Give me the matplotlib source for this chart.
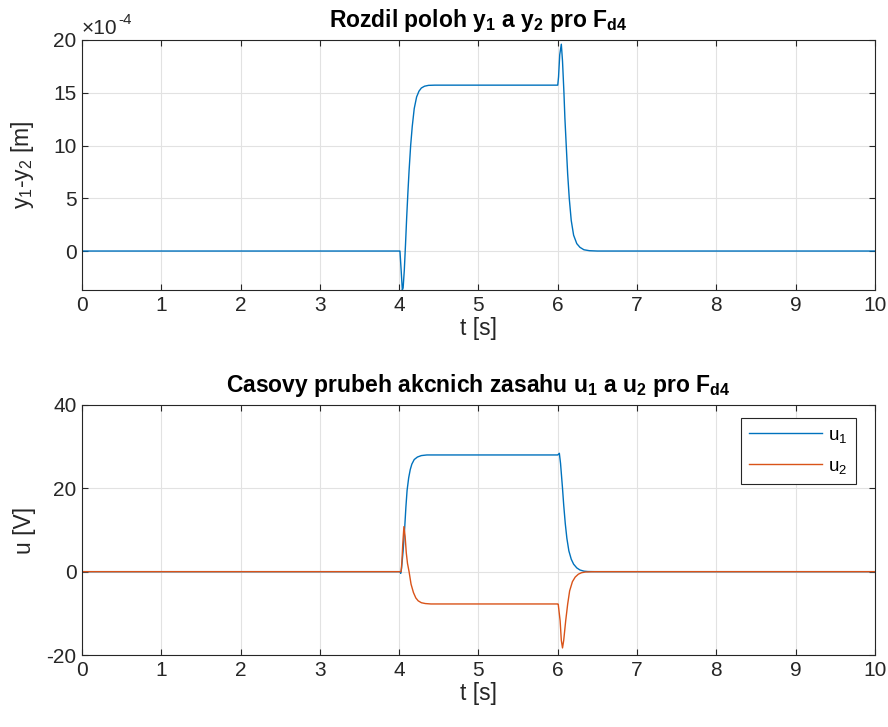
import matplotlib
matplotlib.use('Agg')
import numpy as np
from matplotlib import pyplot as plt

# Position difference y1 - y2 (in units of 1e-4 m)
t_diff = [0, 4.0, 4.01, 4.025, 4.04, 4.05, 4.065, 4.08, 4.095, 4.11, 4.125, 4.145,
          4.165, 4.19, 4.22, 4.25, 4.28, 4.32, 4.37, 4.45, 6.0, 6.01, 6.025, 6.045,
          6.06, 6.078, 6.09, 6.107, 6.125, 6.145, 6.17, 6.2, 6.24, 6.28, 6.33, 6.4,
          6.5, 10]
y_diff = [0, 0, 0, -1.8, -3.7, -3.5, -1.8, 0.6, 3.2, 5.5, 7.6, 10.0,
          11.8, 13.5, 14.6, 15.15, 15.45, 15.62, 15.7, 15.72, 15.72, 16.5, 18.6, 19.6,
          18.0, 15.0, 12.6, 10.0, 7.3, 5.0, 2.9, 1.5, 0.7, 0.35, 0.12, 0.03,
          0, 0]

# Control inputs u1, u2 [V]
t_u1 = [0, 4.0, 4.01, 4.02, 4.03, 4.05, 4.07, 4.085, 4.1, 4.12, 4.14, 4.16, 4.19,
        4.23, 4.28, 4.35, 6.0, 6.02, 6.035, 6.06, 6.075, 6.095, 6.115, 6.14, 6.17,
        6.2, 6.24, 6.28, 6.33, 6.38, 6.5, 10]
u1 = [0, 0, 0, -0.4, 0.8, 5.0, 10.6, 15.5, 19.5, 22.5, 24.5, 25.8, 26.9,
      27.5, 27.85, 28.0, 28.0, 28.4, 26.0, 20.0, 16.0, 11.5, 8.0, 5.0, 3.0,
      1.8, 0.9, 0.4, 0.12, 0.03, 0, 0]

t_u2 = [0, 4.0, 4.025, 4.035, 4.045, 4.06, 4.075, 4.09, 4.105, 4.125, 4.15, 4.18,
        4.21, 4.24, 4.28, 4.33, 4.4, 6.0, 6.006, 6.03, 6.045, 6.06, 6.075, 6.1,
        6.125, 6.15, 6.185, 6.22, 6.26, 6.3, 6.35, 6.42, 6.5, 10]
u2 = [0, 0, 0, 2.5, 6.5, 10.8, 8.5, 4.5, 2.0, 0, -3.0, -5.0,
      -6.3, -7.0, -7.45, -7.65, -7.75, -7.75, -7.8, -11.8, -16.5, -18.3, -16.5, -11.8,
      -7.8, -4.6, -2.4, -1.3, -0.6, -0.25, -0.08, -0.02, 0, 0]

plt.rcParams['font.family'] = ['Liberation Sans', 'DejaVu Sans']
plt.rcParams['axes.unicode_minus'] = False
plt.rcParams['mathtext.fontset'] = 'custom'
plt.rcParams['mathtext.rm'] = 'Liberation Sans'
plt.rcParams['mathtext.it'] = 'Liberation Sans'
plt.rcParams['mathtext.bf'] = 'Liberation Sans:bold'

BLUE = '#0072BD'
ORANGE = '#D95319'
AX_COLOR = '#262626'
TICK_FS = 15
LABEL_FS = 16.5

fig = plt.figure(figsize=(8.88, 7.27), dpi=100)
ax1 = fig.add_axes([0.0923, 0.601, 0.893, 0.344])
ax2 = fig.add_axes([0.0923, 0.099, 0.893, 0.344])


def matlab_style(ax):
    ax.set_xlim(0, 10)
    ax.set_xticks(np.arange(0, 11, 1))
    ax.grid(True, color='#e2e2e2', linewidth=0.8)
    ax.set_axisbelow(True)
    for s in ax.spines.values():
        s.set_color(AX_COLOR)
        s.set_linewidth(0.8)
    ax.tick_params(direction='in', length=4.5, width=0.8, colors=AX_COLOR,
                   labelsize=TICK_FS, top=True, right=True, pad=4)


# top: position difference
ax1.plot(t_diff, y_diff, color=BLUE, linewidth=1.0)
ax1.set_ylim(-3.7, 20)
ax1.set_yticks([0, 5, 10, 15, 20])
matlab_style(ax1)
ax1.text(0.0, 1.008, '\u00d710', transform=ax1.transAxes,
         fontsize=TICK_FS, color=AX_COLOR, ha='left', va='bottom')
ax1.annotate('-4', xy=(0.0, 1.008), xycoords='axes fraction',
             xytext=(26, 8), textcoords='offset points',
             fontsize=11, color=AX_COLOR, ha='left', va='bottom')
ax1.set_xlabel('t [s]', fontsize=LABEL_FS, color=AX_COLOR, labelpad=2)
ax1.set_ylabel(r'y$_1$-y$_2$ [m]', fontsize=LABEL_FS, color=AX_COLOR)
ax1.yaxis.set_label_coords(-0.058, 0.5)
ax1.set_title(r'Rozdil poloh y$_\mathbf{1}$ a y$_\mathbf{2}$ pro F$_\mathbf{d4}$',
              fontsize=LABEL_FS, fontweight='bold', pad=9)

# bottom: control inputs
ax2.plot(t_u1, u1, color=BLUE, linewidth=1.0, label=r'u$_1$')
ax2.plot(t_u2, u2, color=ORANGE, linewidth=1.0, label=r'u$_2$')
ax2.set_ylim(-20, 40)
ax2.set_yticks([-20, 0, 20, 40])
matlab_style(ax2)
ax2.set_xlabel('t [s]', fontsize=LABEL_FS, color=AX_COLOR, labelpad=2)
ax2.set_ylabel('u [V]', fontsize=LABEL_FS, color=AX_COLOR)
ax2.yaxis.set_label_coords(-0.058, 0.5)
ax2.set_title(r'Casovy prubeh akcnich zasahu u$_\mathbf{1}$ a u$_\mathbf{2}$ pro F$_\mathbf{d4}$',
              fontsize=LABEL_FS, fontweight='bold', pad=9)
leg = ax2.legend(loc='upper right', bbox_to_anchor=(0.976, 0.948), fontsize=13.5,
                 handlelength=3.85, handletextpad=0.35, fancybox=False, framealpha=1,
                 edgecolor=AX_COLOR, borderpad=0.45, borderaxespad=0,
                 labelspacing=0.7)
leg.get_frame().set_linewidth(0.8)

fig.savefig('out.png', dpi=100)
